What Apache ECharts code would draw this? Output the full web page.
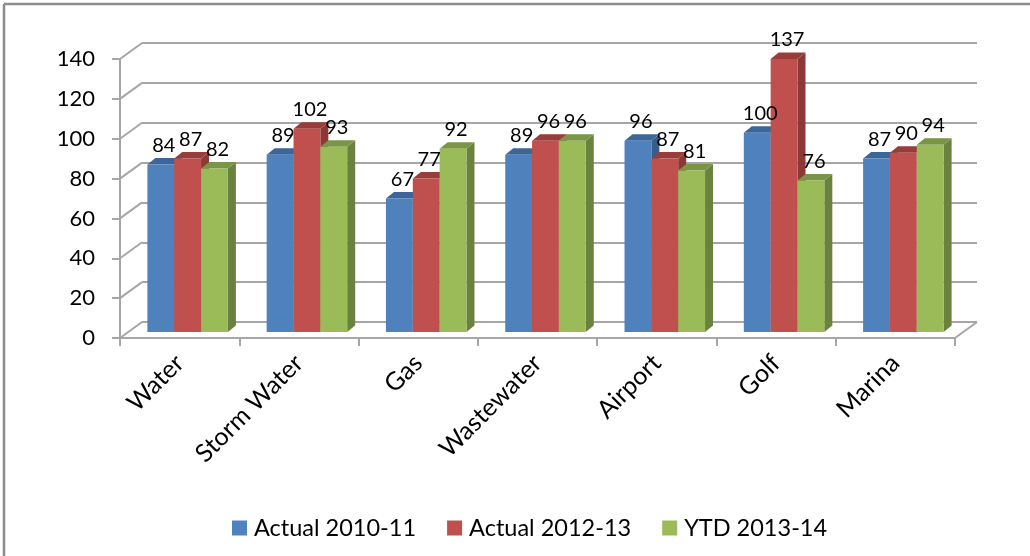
<!DOCTYPE html>
<html>
<head>
<meta charset="utf-8">
<script src="https://cdn.jsdelivr.net/npm/echarts@6/dist/echarts.min.js"></script>
<style>
  html, body { margin: 0; padding: 0; background: #fff; }
  #main { width: 1030px; height: 556px; }
</style>
</head>
<body>
<div id="main"></div>
<script>
// 数据
const categories = ['Water', 'Storm Water', 'Gas', 'Wastewater', 'Airport', 'Golf', 'Marina']
const actual1011 = [84, 89, 67, 89, 96, 100, 87]
const actual1213 = [87, 102, 77, 96, 87, 137, 90]
const ytd1314 = [82, 93, 92, 96, 81, 76, 94]
const yTicks = [0, 20, 40, 60, 80, 100, 120, 140]
const seriesNames = ['Actual 2010-11', 'Actual 2012-13', 'YTD 2013-14']

// 颜色：正面 / 顶面 / 侧面
const faces = [
    { front: '#4F81BD', top: '#3C6699', side: '#385D8A' },
    { front: '#C0504D', top: '#993D3A', side: '#8C3836' },
    { front: '#9BBB59', top: '#7A9545', side: '#6A8240' }
]

const FONT = 'Lato'
const GRID_COLOR = '#A6A6A6'
const WALL_DX = 22, WALL_DY = -16   // 背面相对正面的偏移
const BAR_DX = 8, BAR_DY = -6       // 柱子所在深度
const DEPTH_X = 8, DEPTH_Y = -6.5   // 柱子自身厚度

const myChart = echarts.init(document.getElementById('main'))

function barRenderer(sIdx) {
    return function (params, api) {
        const i = api.value(0)
        const v = api.value(1)
        const base = api.coord([i, 0])
        const top = api.coord([i, v])
        const band = api.size([1, 0])[0]
        const w = band * 0.225
        const x0 = base[0] - 1.5 * w + sIdx * w + BAR_DX
        const yb = base[1] + BAR_DY
        const yt = top[1] + BAR_DY
        const c = faces[sIdx]
        return {
            type: 'group',
            children: [
                {
                    type: 'polygon',
                    shape: { points: [[x0 + w, yt], [x0 + w + DEPTH_X, yt + DEPTH_Y], [x0 + w + DEPTH_X, yb + DEPTH_Y], [x0 + w, yb]] },
                    style: { fill: c.side }
                },
                {
                    type: 'polygon',
                    shape: { points: [[x0, yt], [x0 + w, yt], [x0 + w + DEPTH_X, yt + DEPTH_Y], [x0 + DEPTH_X, yt + DEPTH_Y]] },
                    style: { fill: c.top }
                },
                {
                    type: 'rect',
                    shape: { x: x0, y: yt, width: w, height: yb - yt },
                    style: { fill: c.front }
                },
                {
                    type: 'text',
                    x: x0 + w / 2 + 3,
                    y: yt - 19,
                    style: {
                        text: String(v),
                        font: '20px ' + FONT,
                        fill: '#000',
                        align: 'center',
                        verticalAlign: 'middle'
                    },
                    z2: 10
                }
            ]
        }
    }
}

// 左侧墙的斜线
function wallRenderer(params, api) {
    const v = api.value(1)
    const p = api.coord([0, v])
    const band = api.size([1, 0])[0]
    const x0 = p[0] - band / 2
    const lines = [{
        type: 'line',
        shape: { x1: x0, y1: p[1], x2: x0 + WALL_DX, y2: p[1] + WALL_DY },
        style: { stroke: GRID_COLOR, lineWidth: 2 }
    }]
    if (v === 0) {
        const xe = x0 + band * categories.length
        lines.push({
            type: 'line',
            shape: { x1: xe, y1: p[1], x2: xe + WALL_DX, y2: p[1] + WALL_DY },
            style: { stroke: GRID_COLOR, lineWidth: 2 }
        })
    }
    return { type: 'group', children: lines }
}

const allData = [actual1011, actual1213, ytd1314]

myChart.setOption({
    animation: false,
    textStyle: { fontFamily: FONT },
    graphic: [
        { type: 'line', shape: { x1: 4, y1: 4, x2: 1030, y2: 4 }, style: { stroke: '#8C8C8C', lineWidth: 2.5 } },
        { type: 'line', shape: { x1: 4, y1: 4, x2: 4, y2: 556 }, style: { stroke: '#8C8C8C', lineWidth: 2.5 } }
    ],
    legend: {
        data: seriesNames,
        top: 511,
        left: 227,
        itemWidth: 15,
        itemHeight: 15,
        itemGap: 31,
        icon: 'rect',
        textStyle: { fontSize: 23.5, color: '#000', fontFamily: FONT, padding: [0, 0, 0, 2] }
    },
    grid: [
        { left: 120, top: 59, width: 835, height: 279 },
        { left: 142, top: 43, width: 835, height: 279 }
    ],
    xAxis: [
        {
            gridIndex: 0,
            type: 'category',
            data: categories,
            axisLine: { lineStyle: { color: GRID_COLOR, width: 2 } },
            axisTick: { show: true, interval: 0, length: 8, lineStyle: { color: GRID_COLOR, width: 2 } },
            axisLabel: { rotate: 45, interval: 0, margin: 21, fontSize: 25, color: '#000', fontFamily: FONT }
        },
        {
            gridIndex: 1,
            type: 'category',
            data: categories,
            show: false
        }
    ],
    yAxis: [
        {
            gridIndex: 0,
            type: 'value',
            min: 0,
            max: 140,
            interval: 20,
            axisLine: { show: true, lineStyle: { color: GRID_COLOR, width: 2 } },
            axisTick: { show: true, length: 8, lineStyle: { color: GRID_COLOR, width: 2 } },
            axisLabel: { margin: 25, fontSize: 22, color: '#000', fontFamily: FONT },
            splitLine: { show: false }
        },
        {
            gridIndex: 1,
            type: 'value',
            min: 0,
            max: 140,
            interval: 20,
            axisLine: { show: false },
            axisTick: { show: false },
            axisLabel: { show: false },
            splitLine: { show: true, lineStyle: { color: GRID_COLOR, width: 2 } }
        }
    ],
    series: [
        {
            type: 'custom',
            name: 'wall',
            xAxisIndex: 0,
            yAxisIndex: 0,
            silent: true,
            renderItem: wallRenderer,
            data: yTicks.map(v => [0, v])
        }
    ].concat(allData.map((arr, s) => ({
        type: 'custom',
        name: seriesNames[s],
        xAxisIndex: 0,
        yAxisIndex: 0,
        itemStyle: { color: faces[s].front },
        renderItem: barRenderer(s),
        data: arr.map((v, i) => [i, v]),
        z: 3
    })))
})
</script>
</body>
</html>
